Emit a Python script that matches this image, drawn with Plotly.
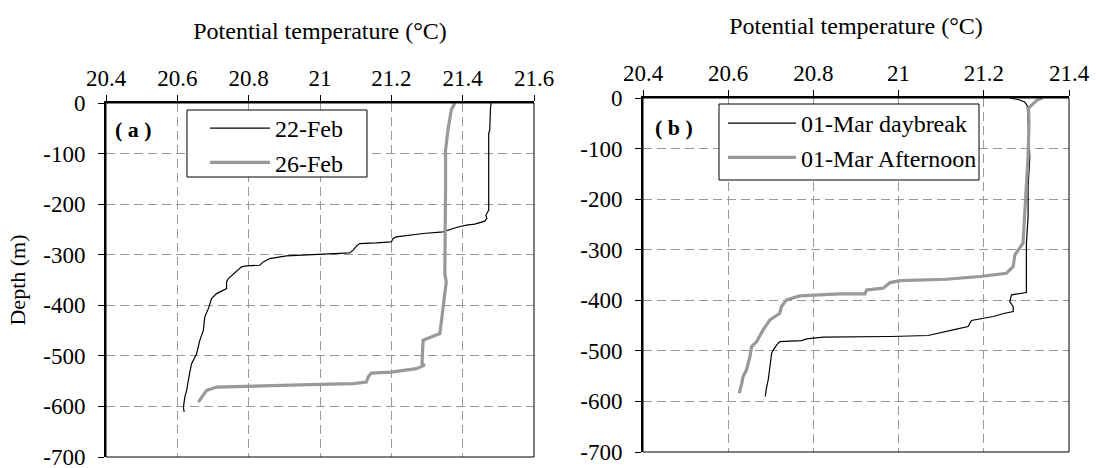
import plotly.graph_objects as go

# ---- Data ----
# Panel (a)
feb22_temp = [21.480, 21.478, 21.476, 21.473, 21.473, 21.465, 21.468, 21.462, 21.434, 21.410, 21.382,
              21.345, 21.289, 21.214, 21.205, 21.200, 21.158, 21.111, 21.102, 21.093, 21.083,
              21.009, 20.934, 20.906, 20.859, 20.841, 20.831, 20.794, 20.780, 20.757, 20.743,
              20.738, 20.738, 20.710, 20.696, 20.687, 20.677, 20.673, 20.663, 20.654, 20.640,
              20.635, 20.631, 20.626, 20.621, 20.617, 20.619]
feb22_depth = [0, -10, -53, -60, -212, -222, -228, -233.7, -239.6, -241.6, -246.2,
               -254.8, -258.1, -264.7, -268, -274.6, -276.6, -277.9, -283, -291, -296.4,
               -299, -301, -302.3, -307.6, -314.2, -320.8, -322, -324, -337.3, -347.2,
               -353.8, -367, -376.9, -386.8, -406.6, -423.1, -449.5, -469.3, -495.7, -515.5,
               -532, -551.8, -568.3, -581.5, -601.3, -611]

feb26_temp = [21.378, 21.368, 21.359, 21.352, 21.352, 21.350, 21.350, 21.354, 21.345, 21.340,
              21.336, 21.312, 21.289, 21.286, 21.293, 21.270, 21.200, 21.144, 21.135, 21.130,
              21.093, 21.000, 20.822, 20.710, 20.682, 20.668, 20.659]
feb26_depth = [0, -14, -53, -93, -172, -271, -337, -354, -403, -423,
               -456, -462.6, -469, -515.5, -518.8, -525.4, -532, -534, -541.9, -551.8,
               -555, -556.4, -559.7, -561.7, -568.3, -581.5, -591.4]

# Panel (b)
mar01_day_temp = [21.261, 21.280, 21.296, 21.302, 21.304, 21.308, 21.304, 21.304, 21.300, 21.300,
                  21.265, 21.261, 21.269, 21.269, 21.249, 21.222, 21.171, 21.163, 21.128, 21.101,
                  21.069, 20.980, 20.823, 20.784, 20.772, 20.721, 20.714, 20.706, 20.702, 20.698,
                  20.694, 20.689, 20.687]
mar01_day_depth = [0, -3, -8, -15, -50, -116, -175, -234.6, -287, -384.7,
                   -389.3, -402.5, -412.4, -422.3, -425.6, -432.1, -440, -451.9, -458.5, -463.7,
                   -469.6, -471.6, -473, -476.3, -479.6, -481.6, -488.1, -498, -504.6, -531,
                   -557, -577, -590.3]

mar01_aft_temp = [21.338, 21.325, 21.305, 21.306, 21.304, 21.300, 21.296, 21.292, 21.273, 21.269,
                  21.253, 21.191, 21.112, 21.003, 20.980, 20.968, 20.964, 20.925, 20.921, 20.862,
                  20.768, 20.737, 20.725, 20.721, 20.698, 20.682, 20.667, 20.655, 20.651, 20.643,
                  20.635, 20.632, 20.626]
mar01_aft_depth = [0, -4, -20, -50, -116, -168.6, -234.6, -287, -310, -333.3,
                   -346.5, -353, -358.4, -361, -365, -372.8, -376, -379.4, -387.4, -387.4,
                   -391.3, -399.2, -412.4, -425.6, -438.7, -458.5, -481.6, -491.5, -511.3, -537.5,
                   -550.8, -563.8, -583.6]

temp_ticks = [20.4, 20.6, 20.8, 21.0, 21.2, 21.4, 21.6]
temp_labels = ["20.4", "20.6", "20.8", "21", "21.2", "21.4", "21.6"]
depth_ticks = [0, -100, -200, -300, -400, -500, -600, -700]
depth_labels = ["0", "-100", "-200", "-300", "-400", "-500", "-600", "-700"]

FONT = "Liberation Serif"
GRAY = "#999999"
W, H = 1096, 468
TICKFONT = dict(family=FONT, size=23, color="black")

fig = go.Figure()
fig.add_trace(go.Scatter(x=feb22_temp, y=feb22_depth, mode="lines", name="22-Feb",
                         line=dict(color="black", width=1.2), xaxis="x", yaxis="y", legend="legend"))
fig.add_trace(go.Scatter(x=feb26_temp, y=feb26_depth, mode="lines", name="26-Feb",
                         line=dict(color=GRAY, width=3.2), xaxis="x", yaxis="y", legend="legend"))
fig.add_trace(go.Scatter(x=mar01_day_temp, y=mar01_day_depth, mode="lines", name="01-Mar daybreak",
                         line=dict(color="black", width=1.2), xaxis="x2", yaxis="y2", legend="legend2"))
fig.add_trace(go.Scatter(x=mar01_aft_temp, y=mar01_aft_depth, mode="lines", name="01-Mar Afternoon",
                         line=dict(color=GRAY, width=3.2), xaxis="x2", yaxis="y2", legend="legend2"))

def xax(dom, rng, anchor):
    return dict(domain=dom, range=rng, tickmode="array", tickvals=temp_ticks, ticktext=temp_labels,
                side="top", anchor=anchor,
                automargin=False, ticklabeloverflow="allow",
                showline=True, linecolor="black", linewidth=2, ticks="outside", ticklen=6,
                tickcolor="black", showgrid=True, gridcolor=GRAY, griddash="9px,5px", gridwidth=1,
                zeroline=False, tickfont=TICKFONT,
                title=dict(text="Potential temperature (°C)", font=dict(family=FONT, size=24, color="black"),
                           standoff=19))

def yax(dom, anchor, title=None):
    d = dict(domain=dom, range=[-700, 0], tickmode="array", tickvals=depth_ticks, ticktext=depth_labels,
             anchor=anchor,
             automargin=False, ticklabeloverflow="allow", ticklabelstandoff=8,
             showline=True, linecolor="black", linewidth=2, ticks="outside", ticklen=6,
             tickcolor="black", showgrid=True, gridcolor=GRAY, griddash="9px,5px", gridwidth=1,
             zeroline=False, tickfont=TICKFONT)
    if title:
        d["title"] = dict(text=title, font=dict(family=FONT, size=22, color="black"), standoff=12)
    return d

legend_common = dict(bgcolor="rgba(0,0,0,0)", borderwidth=0,
                     font=dict(family=FONT, size=24, color="black"),
                     xanchor="left", yanchor="top")

def px_rect(x0, x1, y0, y1):
    return dict(type="rect", xref="paper", yref="paper",
                x0=x0 / W, x1=x1 / W, y0=(H - y1) / H, y1=(H - y0) / H,
                fillcolor="white", line=dict(color="black", width=1), layer="above")

fig.update_layout(
    template="none",
    width=W, height=H, autosize=False,
    margin=dict(l=0, r=0, t=0, b=0),
    paper_bgcolor="white", plot_bgcolor="white",
    font=dict(family=FONT, size=22, color="black"),
    xaxis=xax([106 / W, 534 / W], [20.4, 21.6], "y"),
    yaxis=yax([(H - 457) / H, (H - 103) / H], "x", "Depth (m)"),
    xaxis2=xax([643 / W, 1069 / W], [20.4, 21.4], "y2"),
    yaxis2=yax([(H - 452) / H, (H - 98) / H], "x2"),
    legend=dict(x=205 / W, y=(H - 106) / H, itemwidth=60, **legend_common),
    legend2=dict(x=723 / W, y=(H - 101) / H, itemwidth=68, **legend_common),
    shapes=[
        dict(type="rect", xref="x domain", yref="y domain", x0=0, x1=1, y0=0, y1=1,
             line=dict(color="black", width=1)),
        dict(type="rect", xref="x2 domain", yref="y2 domain", x0=0, x1=1, y0=0, y1=1,
             line=dict(color="black", width=1)),
        px_rect(187, 367, 110, 177),
        px_rect(719, 979, 104, 180),
    ],
    annotations=[
        dict(text="<b>( a )</b>", x=113 / W, y=(H - 129) / H, xref="paper", yref="paper",
             xanchor="left", yanchor="middle", showarrow=False,
             font=dict(family=FONT, size=22, color="black")),
        dict(text="<b>( b )</b>", x=653 / W, y=(H - 127) / H, xref="paper", yref="paper",
             xanchor="left", yanchor="middle", showarrow=False,
             font=dict(family=FONT, size=22, color="black")),
    ],
)

fig.write_html("out.html")
